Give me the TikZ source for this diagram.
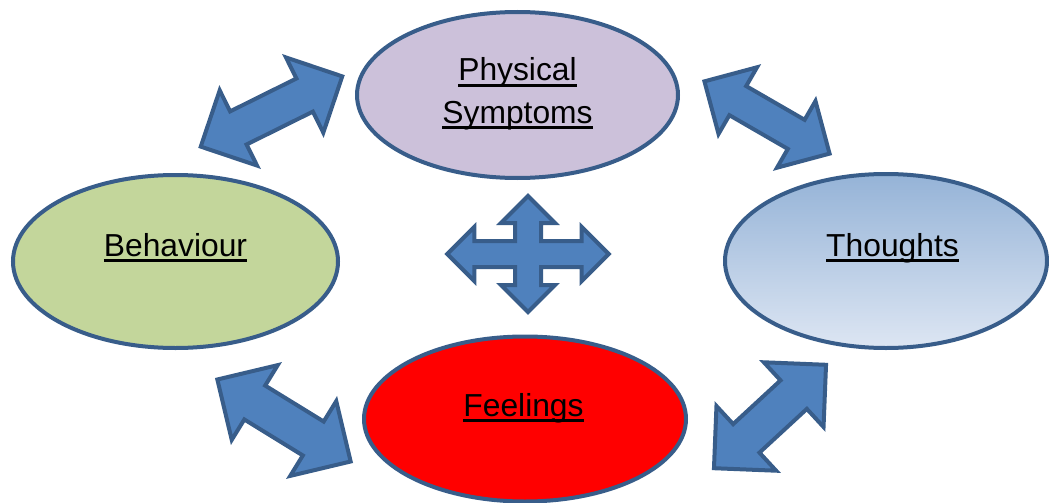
\documentclass[tikz,border=0pt]{standalone}
\usepackage{fontspec}
\setmainfont{Liberation Sans}
\usetikzlibrary{shapes.geometric,shapes.arrows}
\definecolor{rimblue}{HTML}{385D8A}
\definecolor{arrowblue}{HTML}{4F81BD}
\definecolor{lilac}{HTML}{CCC1DA}
\definecolor{sage}{HTML}{C3D69B}
\definecolor{skytop}{HTML}{95B3D7}
\definecolor{skybot}{HTML}{DDE6F3}
\newsavebox\ulbox
\newcommand{\ulword}[1]{\sbox\ulbox{#1}\rlap{\vrule height -3pt depth 5.6pt width \wd\ulbox}\usebox\ulbox}
\begin{document}
\begin{tikzpicture}[x=1pt,y=-1pt,
	ring/.style={ellipse,draw=rimblue,line width=4pt,inner sep=0pt},
	lbl/.style={font=\fontsize{31.8}{43}\selectfont,inner sep=0pt,anchor=base},
	twoway/.style={shape=double arrow,draw=rimblue,fill=arrowblue,line width=4pt,
		minimum width=0pt,inner xsep=0pt}]
\useasboundingbox (0,0) rectangle (1049,503);
\node[twoway,rotate=26.4,minimum height=158pt,inner ysep=16.5pt,double arrow head extend=23.5pt] (beh-phys) at (271.5,111.5) {};
\node[twoway,rotate=-30,minimum height=144.5pt,inner ysep=14.8pt,double arrow head extend=21.7pt] (phys-thou) at (767,117.5) {};
\node[twoway,rotate=-31.6,minimum height=156.5pt,inner ysep=17.9pt,double arrow head extend=24pt] (beh-feel) at (284,420.5) {};
\node[twoway,rotate=42.7,minimum height=152.5pt,inner ysep=17.4pt,double arrow head extend=24.6pt] (feel-thou) at (770,416.5) {};
\coordinate (hub) at (528,254);
\draw[draw=rimblue,fill=arrowblue,line width=4pt,shift={(hub)}]
	(80.7,0) -- (53.7,27) -- (53.7,13) -- (13,13) -- (13,31) -- (27,31) -- (0,58)
	-- (-27,31) -- (-13,31) -- (-13,13) -- (-53.7,13) -- (-53.7,27) -- (-80.7,0)
	-- (-53.7,-27) -- (-53.7,-13) -- (-13,-13) -- (-13,-31) -- (-27,-31) -- (0,-58)
	-- (27,-31) -- (13,-31) -- (13,-13) -- (53.7,-13) -- (53.7,-27) -- cycle;
\node[ring,fill=lilac,minimum width=321pt,minimum height=166pt] (phys) at (517.5,95) {};
\node[ring,fill=sage,minimum width=325pt,minimum height=173pt] (beh) at (175.5,261.5) {};
\node[ring,top color=skytop,bottom color=skybot,minimum width=322pt,minimum height=174pt] (thou) at (886,261) {};
\node[ring,fill=red,minimum width=322pt,minimum height=165pt] (feel) at (525,419) {};
\node[lbl] (phys-a) at ([yshift=14pt]phys.center) {\ulword{Physical}};
\node[lbl] (phys-b) at ([yshift=-28pt]phys.center) {\ulword{Symptoms}};
\node[lbl] (beh-t) at ([yshift=5.5pt]beh.center) {\ulword{Behaviour}};
\node[lbl] (thou-t) at ([xshift=6.5pt,yshift=5pt]thou.center) {\ulword{Thoughts}};
\node[lbl] (feel-t) at ([xshift=-1.5pt,yshift=3pt]feel.center) {\ulword{Feelings}};
\end{tikzpicture}
\end{document}
